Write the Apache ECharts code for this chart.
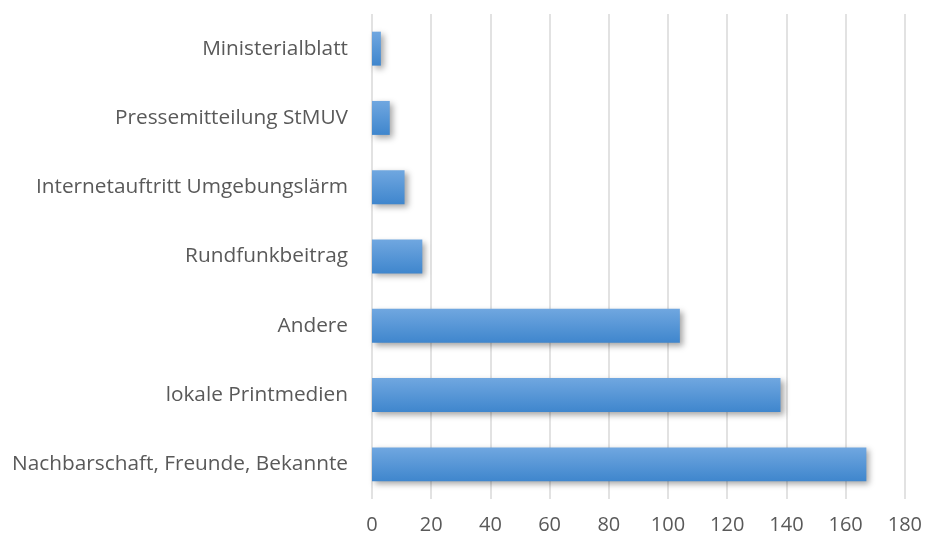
<!DOCTYPE html>
<html>
<head>
<meta charset="utf-8">
<script src="https://cdn.jsdelivr.net/npm/echarts@6/dist/echarts.min.js"></script>
<style>
  html, body { margin: 0; padding: 0; background: #fff; }
  #chart { width: 925px; height: 538px; }
</style>
</head>
<body>
<div id="chart"></div>
<script>
// categories from bottom to top (ECharts category y axis starts at the bottom)
var categories = ['Nachbarschaft, Freunde, Bekannte', 'lokale Printmedien', 'Andere',
  'Rundfunkbeitrag', 'Internetauftritt Umgebungslärm', 'Pressemitteilung StMUV', 'Ministerialblatt'];
var values = [167, 138, 104, 17, 11, 6, 3];
var xTicks = { min: 0, max: 180, interval: 20 };

var chart = echarts.init(document.getElementById('chart'));

var option = {
  animation: false,
  textStyle: { fontFamily: 'Open Sans' },
  grid: { left: 372, right: 19, top: 14, bottom: 39 },
  xAxis: {
    type: 'value',
    min: xTicks.min,
    max: xTicks.max,
    interval: xTicks.interval,
    axisLine: { show: false },
    axisTick: { show: false },
    axisLabel: { color: '#595959', fontSize: 20, margin: 16 },
    splitLine: { lineStyle: { color: '#d9d9d9', width: 1.5 } }
  },
  yAxis: {
    type: 'category',
    data: categories,
    axisLine: { show: false },
    axisTick: { show: false },
    axisLabel: { color: '#595959', fontSize: 20.8, margin: 24 }
  },
  series: [{
    type: 'bar',
    data: values,
    barCategoryGap: '51%',
    itemStyle: {
      color: new echarts.graphic.LinearGradient(0, 0, 0, 1, [
        { offset: 0, color: '#70a7e0' },
        { offset: 1, color: '#3f86cd' }
      ]),
      shadowColor: 'rgba(0,0,0,0.35)',
      shadowBlur: 6,
      shadowOffsetX: 3,
      shadowOffsetY: 3
    }
  }]
};

chart.setOption(option);
</script>
</body>
</html>
